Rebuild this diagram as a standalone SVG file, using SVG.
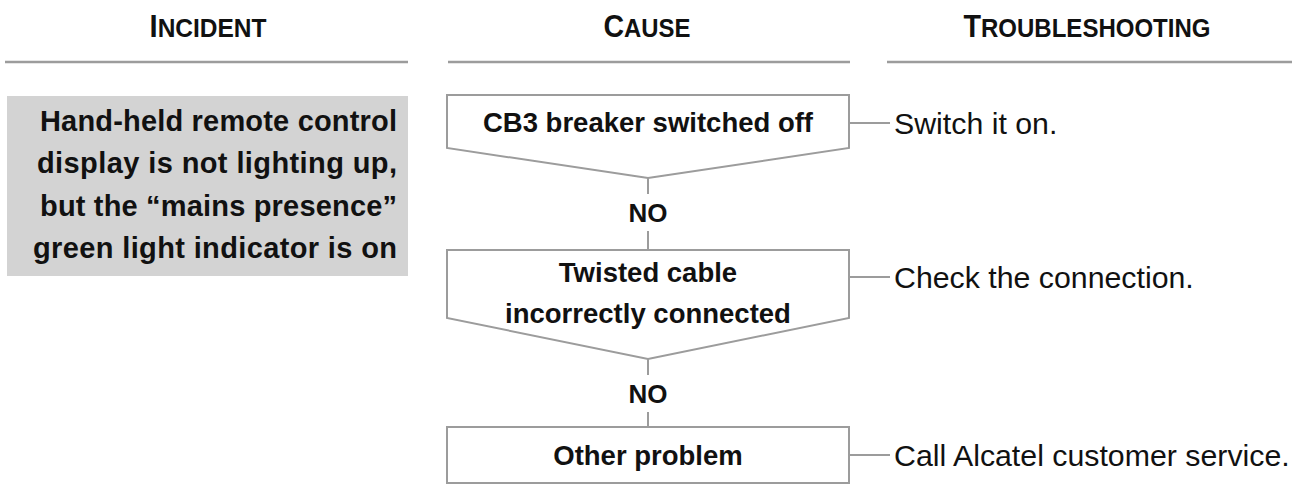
<svg xmlns="http://www.w3.org/2000/svg" width="1292" height="484" viewBox="0 0 1292 484">
<style>
.rule{stroke:#9c9c9c;stroke-width:2.5;fill:none}
.shape{stroke:#9c9c9c;stroke-width:2;fill:#fff}
.conn{stroke:#9c9c9c;stroke-width:2;fill:none}
.hdr{font-family:"Liberation Sans",Arial,sans-serif;font-weight:bold;fill:#111;text-anchor:middle}
.big{font-size:31px}
.sm{font-size:26px}
.node{font-family:"Liberation Sans",Arial,sans-serif;font-weight:bold;font-size:27.5px;fill:#111;text-anchor:middle}
.inc{font-family:"Liberation Sans",Arial,sans-serif;font-weight:bold;font-size:29px;fill:#111}
.no{font-family:"Liberation Sans",Arial,sans-serif;font-weight:bold;font-size:26px;fill:#111;text-anchor:middle}
.fix{font-family:"Liberation Sans",Arial,sans-serif;font-size:30.3px;fill:#111}
</style>
<g id="headers">
<text class="hdr" x="208" y="37" textLength="117" lengthAdjust="spacingAndGlyphs"><tspan class="big">I</tspan><tspan class="sm">NCIDENT</tspan></text>
<text class="hdr" x="647" y="37" textLength="87" lengthAdjust="spacingAndGlyphs"><tspan class="big">C</tspan><tspan class="sm">AUSE</tspan></text>
<text class="hdr" x="1087" y="37" textLength="247" lengthAdjust="spacingAndGlyphs"><tspan class="big">T</tspan><tspan class="sm">ROUBLESHOOTING</tspan></text>
<line class="rule" x1="5" y1="62" x2="408" y2="62"/>
<line class="rule" x1="448" y1="62" x2="850" y2="62"/>
<line class="rule" x1="887" y1="62" x2="1292" y2="62"/>
</g>
<g id="incident">
<rect x="7" y="96" width="401" height="180" fill="#d3d3d3"/>
<text class="inc" x="40" y="130.5" textLength="357" lengthAdjust="spacing">Hand-held remote control</text>
<text class="inc" x="37" y="173" textLength="360" lengthAdjust="spacing">display is not lighting up,</text>
<text class="inc" x="40" y="215.5" textLength="357" lengthAdjust="spacing">but the “mains presence”</text>
<text class="inc" x="33" y="258" textLength="364" lengthAdjust="spacing">green light indicator is on</text>
</g>
<g id="connectors">
<line class="conn" x1="648" y1="178" x2="648" y2="194"/>
<line class="conn" x1="648" y1="231" x2="648" y2="250"/>
<line class="conn" x1="648" y1="359" x2="648" y2="375"/>
<line class="conn" x1="648" y1="412" x2="648" y2="427"/>
<line class="conn" x1="849" y1="123" x2="890" y2="123"/>
<line class="conn" x1="849" y1="277" x2="890" y2="277"/>
<line class="conn" x1="849" y1="455" x2="890" y2="455"/>
<text class="no" x="648" y="222">NO</text>
<text class="no" x="648" y="403">NO</text>
</g>
<g id="cause1">
<polygon class="shape" points="447,95 849,95 849,148 648,178 447,148"/>
<text class="node" x="648" y="132">CB3 breaker switched off</text>
</g>
<g id="cause2">
<polygon class="shape" points="447,250 849,250 849,318 648,359 447,318"/>
<text class="node" x="648" y="282">Twisted cable</text>
<text class="node" x="648" y="323">incorrectly connected</text>
</g>
<g id="cause3">
<rect class="shape" x="447" y="427" width="402" height="56"/>
<text class="node" x="648" y="465">Other problem</text>
</g>
<g id="fix1"><text class="fix" x="894" y="133.5">Switch it on.</text></g>
<g id="fix2"><text class="fix" x="894" y="287.5">Check the connection.</text></g>
<g id="fix3"><text class="fix" x="894" y="465.5">Call Alcatel customer service.</text></g>
</svg>
